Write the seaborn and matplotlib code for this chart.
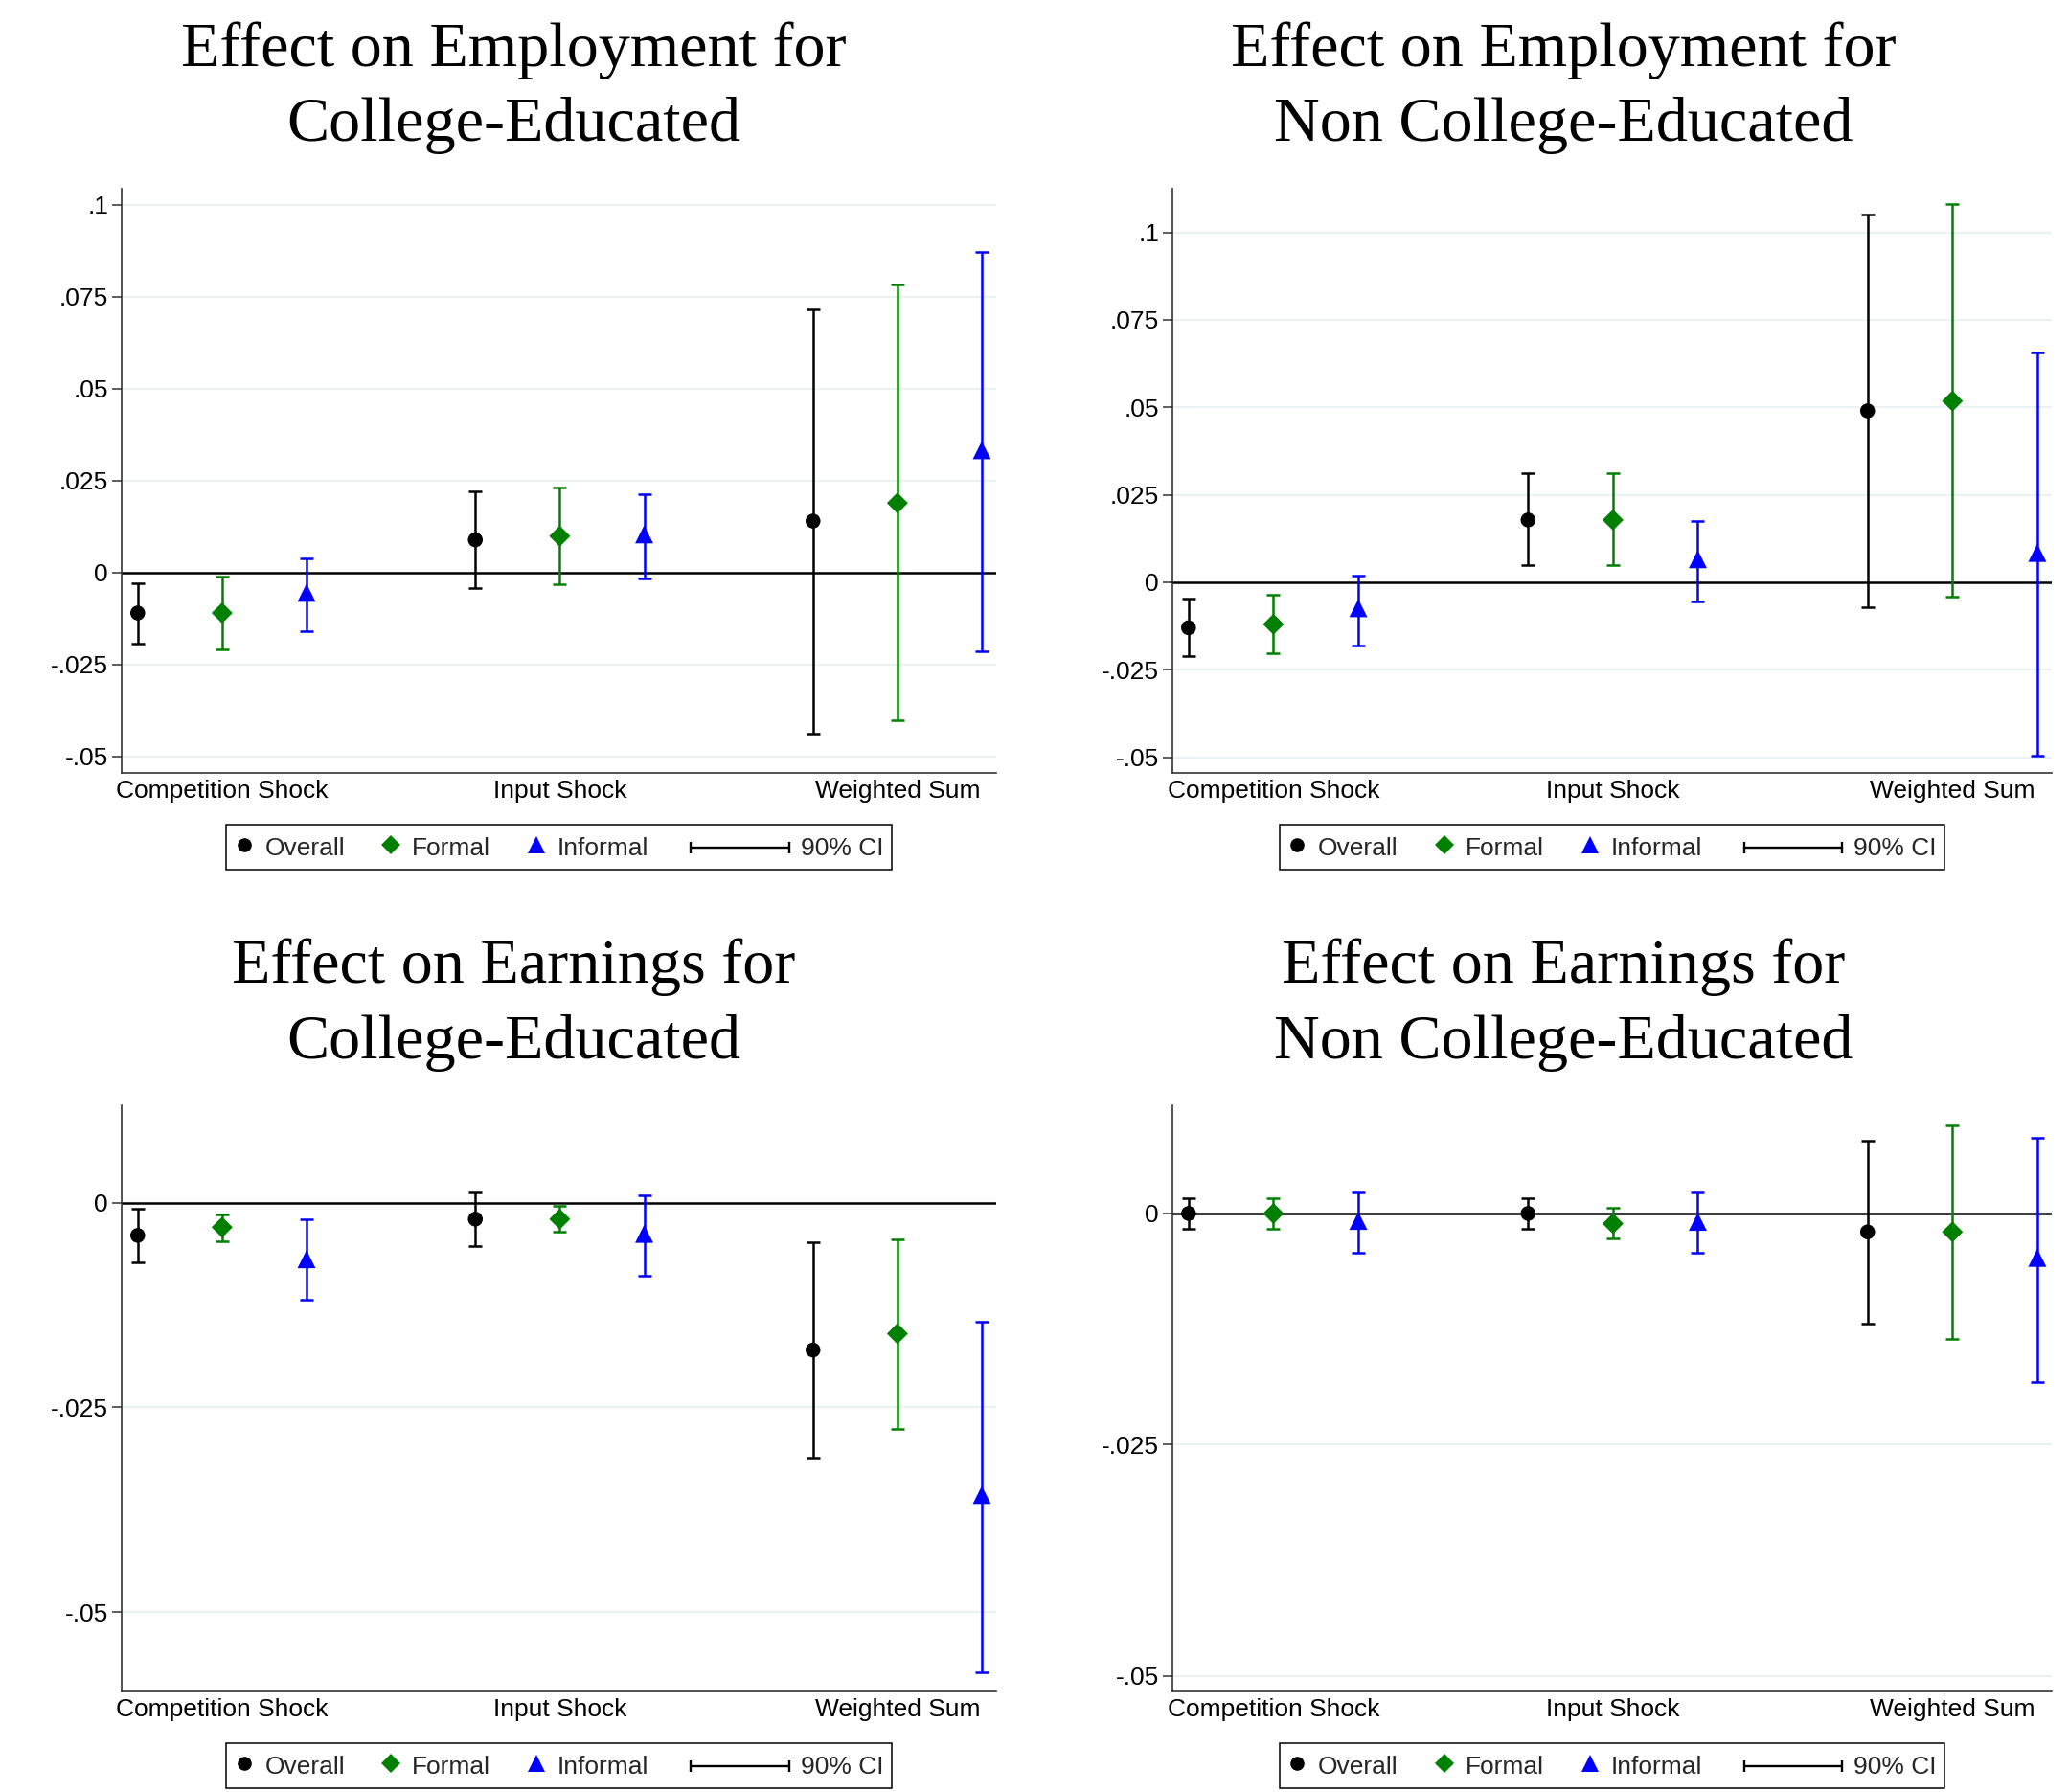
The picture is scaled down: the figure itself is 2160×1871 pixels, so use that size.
import numpy as np
import pandas as pd
import matplotlib
matplotlib.use("Agg")
import matplotlib.pyplot as plt
import seaborn as sns
from matplotlib.lines import Line2D
from matplotlib.legend_handler import HandlerBase

# ---------------------------------------------------------------- data
categories = ["Competition Shock", "Input Shock", "Weighted Sum"]
series = ["Overall", "Formal", "Informal"]

# Employment, college-educated (rows: Overall, Formal, Informal)
emp_col_est = [[-0.0110, 0.0089, 0.0140], [-0.0110, 0.0099, 0.0189], [-0.0055, 0.0104, 0.0333]]
emp_col_lo = [[-0.0194, -0.0042, -0.0437], [-0.0208, -0.0032, -0.0403], [-0.0159, -0.0016, -0.0214]]
emp_col_hi = [[-0.0028, 0.0222, 0.0717], [-0.0012, 0.0232, 0.0783], [0.0038, 0.0214, 0.0873]]

# Employment, non college-educated
emp_non_est = [[-0.0130, 0.0178, 0.0490], [-0.0120, 0.0178, 0.0518], [-0.0074, 0.0066, 0.0084]]
emp_non_lo = [[-0.0212, 0.0048, -0.0071], [-0.0203, 0.0048, -0.0041], [-0.0180, -0.0056, -0.0497]]
emp_non_hi = [[-0.0048, 0.0313, 0.1050], [-0.0037, 0.0313, 0.1080], [0.0019, 0.0176, 0.0658]]

# Earnings, college-educated
earn_col_est = [[-0.0040, -0.0020, -0.0180], [-0.0030, -0.0020, -0.0160], [-0.0069, -0.0038, -0.0357]]
earn_col_lo = [[-0.0073, -0.0053, -0.0312], [-0.0047, -0.0036, -0.0276], [-0.0119, -0.0089, -0.0574]]
earn_col_hi = [[-0.0007, 0.0013, -0.0048], [-0.0014, -0.0004, -0.0045], [-0.0020, 0.0009, -0.0145]]

# Earnings, non college-educated
earn_non_est = [[0.0000, 0.0000, -0.0020], [0.0000, -0.0011, -0.0020], [-0.0008, -0.0009, -0.0048]]
earn_non_lo = [[-0.0017, -0.0017, -0.0119], [-0.0017, -0.0027, -0.0136], [-0.0043, -0.0043, -0.0182]]
earn_non_hi = [[0.0016, 0.0016, 0.0079], [0.0016, 0.0006, 0.0095], [0.0023, 0.0023, 0.0082]]

titles = [
    ("Effect on Employment for", "College-Educated"),
    ("Effect on Employment for", "Non College-Educated"),
    ("Effect on Earnings for", "College-Educated"),
    ("Effect on Earnings for", "Non College-Educated"),
]
yticks_emp = [-0.05, -0.025, 0, 0.025, 0.05, 0.075, 0.1]
yticks_emp_labels = ["-.05", "-.025", "0", ".025", ".05", ".075", ".1"]
yticks_earn = [-0.05, -0.025, 0]
yticks_earn_labels = ["-.05", "-.025", "0"]

# ---------------------------------------------------------------- style
sns.set_theme(style="white")
plt.rcParams["font.family"] = ["Liberation Sans", "DejaVu Sans"]

colors = {"Overall": "#000000", "Formal": "#008000", "Informal": "#0000ff"}
markers = {"Overall": "o", "Formal": "D", "Informal": "^"}
msizes = {"Overall": 125, "Formal": 125, "Informal": 185}
legend_ms = {"Overall": 10.5, "Formal": 10.0, "Informal": 12.5}
GRID = "#e8f0f2"
AXC = "#333333"
TICK_FS = 19


class HandlerCI(HandlerBase):
    """Horizontal capped line used as the confidence-interval legend key."""

    def __init__(self, width_pt, **kw):
        super().__init__(**kw)
        self.width_pt = width_pt

    def legend_artist(self, legend, orig_handle, fontsize, handlebox):
        handlebox.width = self.width_pt
        return super().legend_artist(legend, orig_handle, fontsize, handlebox)

    def create_artists(self, legend, orig_handle, xdescent, ydescent, width,
                       height, fontsize, trans):
        y = height / 2 - ydescent
        x0, x1 = -xdescent + 4, -xdescent + width
        line = Line2D([x0, x1], [y, y], color="black", lw=1.7, transform=trans)
        caps = Line2D([x0, x1], [y, y], color="black", lw=0, marker="|",
                      markersize=9, markeredgewidth=1.7, transform=trans)
        return [line, caps]


def panel_frame(est, lo, hi):
    rows = []
    for si, name in enumerate(series):
        for ci, cat in enumerate(categories):
            rows.append({"series": name, "category": cat,
                         "pos": ci * 4 + si,
                         "est": est[si][ci], "lo": lo[si][ci], "hi": hi[si][ci]})
    return pd.DataFrame(rows)


panels = [
    (emp_col_est, emp_col_lo, emp_col_hi, (-0.0545, 0.1044), yticks_emp, yticks_emp_labels),
    (emp_non_est, emp_non_lo, emp_non_hi, (-0.0545, 0.1125), yticks_emp, yticks_emp_labels),
    (earn_col_est, earn_col_lo, earn_col_hi, (-0.0597, 0.0119), yticks_earn, yticks_earn_labels),
    (earn_non_est, earn_non_lo, earn_non_hi, (-0.0517, 0.0117), yticks_earn, yticks_earn_labels),
]

W, H = 2160, 1871
fig = plt.figure(figsize=(W / 100, H / 100), dpi=100)

# axes rectangles in pixel units: left, right, top, bottom
rects = [
    (127, 1040, 197, 807),
    (1224, 2142, 197, 807),
    (127, 1040, 1154, 1766),
    (1224, 2142, 1154, 1766),
]
title_x = [536, 1632, 536, 1632]
title_base = [(69, 147), (69, 147), (1026, 1105), (1026, 1105)]

for k, (est, lo, hi, ylim, yt, ytl) in enumerate(panels):
    l, r, t, b = rects[k]
    ax = fig.add_axes([l / W, 1 - b / H, (r - l) / W, (b - t) / H])
    df = panel_frame(est, lo, hi)

    for name in series:
        sub = df[df["series"] == name]
        ax.errorbar(sub["pos"], sub["est"],
                    yerr=[sub["est"] - sub["lo"], sub["hi"] - sub["est"]],
                    fmt="none", ecolor=colors[name], elinewidth=1.8,
                    capsize=5, capthick=1.8, zorder=3)

    sns.scatterplot(data=df, x="pos", y="est", hue="series", style="series",
                    size="series", hue_order=series, style_order=series,
                    size_order=series, palette=colors, markers=markers,
                    sizes=msizes, linewidth=0, legend=False, ax=ax, zorder=4)

    ax.axhline(0, color="black", lw=1.8, zorder=2)
    for v in yt:
        if v != 0:
            ax.axhline(v, color=GRID, lw=1.2, zorder=1)

    ax.set_xlim(-0.19, 10.17)
    ax.set_ylim(*ylim)
    ax.set_xticks([1, 5, 9])
    ax.set_xticklabels(categories, fontsize=TICK_FS)
    ax.set_yticks(yt)
    ax.set_yticklabels(ytl, fontsize=TICK_FS)
    ax.tick_params(axis="x", length=0, pad=5, colors="black")
    ax.tick_params(axis="y", length=7, width=1.1, color=AXC, pad=3,
                   left=True, labelcolor="black")
    ax.set_xlabel("")
    ax.set_ylabel("")
    ax.grid(False)
    for side in ("top", "right"):
        ax.spines[side].set_visible(False)
    for side in ("left", "bottom"):
        ax.spines[side].set_color(AXC)
        ax.spines[side].set_linewidth(1.2)

    handles = [Line2D([], [], linestyle="none", marker=markers[s],
                      color=colors[s], markeredgewidth=0,
                      markersize=legend_ms[s]) for s in series]
    ci_handle = Line2D([], [], color="black")
    leg = ax.legend(handles + [ci_handle], series + ["90% CI"],
                    handler_map={ci_handle: HandlerCI(78)},
                    loc="upper center", bbox_to_anchor=(0.5, -54 / (b - t)),
                    ncol=4, fontsize=TICK_FS, frameon=True, fancybox=False,
                    framealpha=1, edgecolor="black", borderpad=0.33,
                    handlelength=0.75, handleheight=1.35, handletextpad=0.45,
                    columnspacing=1.45, borderaxespad=0)
    leg.get_frame().set_linewidth(1.1)

    for line_text, base in zip(titles[k], title_base[k]):
        fig.text(title_x[k] / W, 1 - base / H, line_text, ha="center",
                 va="baseline", fontsize=47.6, family=["Liberation Serif", "DejaVu Serif"],
                 color="black")

fig.savefig("out.png", dpi=100, facecolor="white")
